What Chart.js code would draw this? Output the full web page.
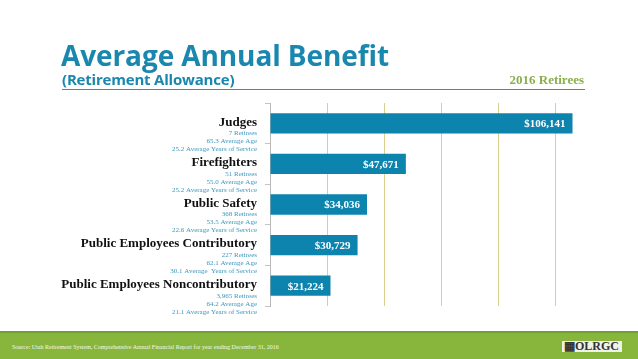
<!DOCTYPE html>
<html>
<head>
<meta charset="utf-8">
<script src="https://cdn.jsdelivr.net/npm/chart.js"></script>
<style>
  html, body { margin:0; padding:0; background:#fff; }
  #wrap { position:relative; width:638px; height:359px; overflow:hidden; }
  #chart { position:absolute; left:0; top:0; }
  .title { position:absolute; left:61px; top:36px; font:bold 28px "Open Sans", sans-serif; color:#1a87ae; letter-spacing:-0.1px; white-space:nowrap; }
  .sub { position:absolute; left:62px; top:69px; font:bold 15px "Open Sans", sans-serif; color:#1a87ae; letter-spacing:-0.2px; white-space:nowrap; }
  .rule { position:absolute; left:62px; top:89px; width:523px; height:0; border-top:1.5px solid #7a7a7a; }
  .year { position:absolute; right:54px; top:72px; font:bold 13px "Liberation Serif", serif; color:#8aae4f; }
  .footer { position:absolute; left:0; top:331px; width:638px; height:28px; background:#88b53b; border-top:2px solid #6fa032; box-sizing:border-box; }
  .src { position:absolute; left:12px; top:11px; font:6px "Liberation Serif", serif; color:#f4f8ec; white-space:nowrap; }
  .logo { position:absolute; left:562px; top:8px; width:60px; height:11px; background:#eef2e8; font:bold 12px "Liberation Serif", serif; color:#333; line-height:11px; text-align:right; padding-right:3px; box-sizing:border-box; }
</style>
</head>
<body>
<div id="wrap">
  <canvas id="chart" width="638" height="359"></canvas>
  <div class="title">Average Annual Benefit</div>
  <div class="sub">(Retirement Allowance)</div>
  <div class="rule"></div>
  <div class="year">2016 Retirees</div>
  <div class="footer">
    <div class="src">Source: Utah Retirement System, Comprehensive Annual Financial Report for year ending December 31, 2016</div>
    <div class="logo">&#9638;OLRGC</div>
  </div>
</div>
<script>
// groups and their average annual benefit
const groups = ["Judges", "Firefighters", "Public Safety", "Public Employees Contributory", "Public Employees Noncontributory"];
const benefits = [106141, 47671, 34036, 30729, 21224];
const retirees = ["7 Retirees", "51 Retirees", "368 Retirees", "227 Retirees", "3,965 Retirees"];
const avgAge = ["65.3 Average Age", "55.0 Average Age", "53.5 Average Age", "62.1 Average Age", "64.2 Average Age"];
const avgService = ["25.2 Average Years of Service", "25.2 Average Years of Service", "22.6 Average Years of Service", "30.1 Average  Years of Service", "21.1 Average Years of Service"];

const money = v => "$" + v.toLocaleString("en-US");

// draws the name + stats beside each bar, and the value inside the bar
const labelPlugin = {
  id: "labels",
  afterDraw(chart){
    const ctx = chart.ctx;
    const y = chart.scales.y;
    const x = chart.scales.x;
    ctx.save();
    groups.forEach((g, i) => {
      const cy = y.getPixelForValue(i);
      const rx = 257;
      ctx.textAlign = "right";
      ctx.textBaseline = "middle";
      ctx.fillStyle = "#111";
      ctx.font = "bold 13px 'Liberation Serif', serif";
      ctx.fillText(g, rx, cy - 1);
      ctx.fillStyle = "#3b97bd";
      ctx.font = "7px 'Liberation Serif', serif";
      ctx.fillText(retirees[i], rx, cy + 10);
      ctx.fillText(avgAge[i], rx, cy + 18);
      ctx.fillText(avgService[i], rx, cy + 26);

      ctx.fillStyle = "#fff";
      ctx.font = "bold 11px 'Liberation Serif', serif";
      ctx.fillText(money(benefits[i]), x.getPixelForValue(benefits[i]) - 7, cy + 1);
    });
    ctx.restore();
  }
};

new Chart(document.getElementById("chart"), {
  type: "bar",
  data: {
    labels: groups,
    datasets: [{
      data: benefits,
      backgroundColor: "#0c84ad",
      barPercentage: 0.5,
      categoryPercentage: 1
    }]
  },
  options: {
    indexAxis: "y",
    responsive: false,
    animation: false,
    layout: { padding: { top: 103, bottom: 53, right: 26, left: 0 } },
    plugins: { legend: { display:false }, tooltip: { enabled:false } },
    scales: {
      x: {
        min: 0, max: 120000,
        ticks: { display:false, stepSize: 20000 },
        border: { display:false },
        grid: {
          drawTicks: false,
          color: c => (c.tick && (c.tick.value === 0 || c.tick.value === 120000)) ? "rgba(0,0,0,0)" : "#dcd08e",
          lineWidth: 1
        }
      },
      y: {
        afterFit: s => { s.width = 270; },
        ticks: { display:false },
        border: { color:"#b9b9b9" },
        grid: { drawOnChartArea:false, drawTicks:true, tickLength:5, color:"#c4c4c4" }
      }
    }
  },
  plugins: [labelPlugin]
});
</script>
</body>
</html>
